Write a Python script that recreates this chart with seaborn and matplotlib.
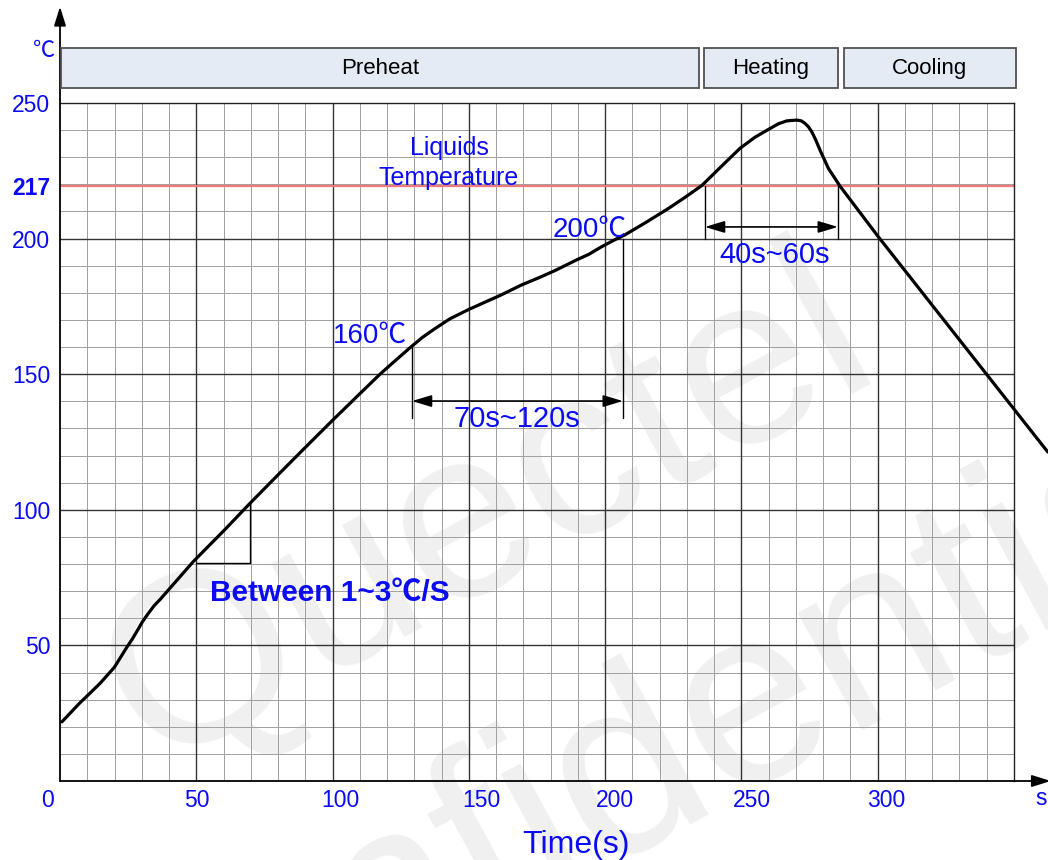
import numpy as np
import pandas as pd
import matplotlib
matplotlib.use("Agg")
import matplotlib.pyplot as plt
import matplotlib.transforms as mtransforms
from matplotlib.patches import Rectangle
import seaborn as sns

# ---------------- data ----------------
time_s = [0.7, 7, 14.7, 20, 24.5, 26.5, 28.1, 30.3, 32.4, 34.5, 36.7, 42, 48.9,
          60, 70, 80, 90, 100, 110, 117.4, 123, 128.8, 133, 137.4, 143, 149.6,
          156, 162, 169.3, 176, 182, 189, 194, 198.7, 203, 207.3, 215, 223.2,
          229, 235.5, 242, 249.5, 255, 260.5, 263.5, 266.6, 270.3, 272, 273.3,
          274.6, 275.8, 277.3, 278.8, 280.4, 281.9, 286.2, 300.2, 362.4]
temp_c = [21.8, 28.5, 36, 42, 49.3, 52.3, 55, 58.8, 61.8, 64.6, 66.9, 73, 80.9,
          92.2, 102.7, 112.9, 123, 133, 142.8, 150, 155, 160.1, 163.6, 166.7,
          170.4, 173.7, 176.6, 179.3, 182.9, 185.7, 188.4, 191.9, 194.2, 197,
          199.3, 201.4, 206, 211.1, 215, 219.6, 226, 233.3, 237.4, 240.6, 242.3,
          243.4, 243.7, 243.4, 242.5, 241.2, 239.4, 236.3, 232.7, 229.2, 225.9,
          219.3, 200.7, 121.3]

x_ticks = [0, 50, 100, 150, 200, 250, 300]
x_tick_labels = ["0", "50", "100", "150", "200", "250", "300"]
y_ticks = [50, 100, 150, 200, 219.4, 250]
y_tick_labels = ["50", "100", "150", "200", "217", "250"]
liquidus_y = 219.4

zones = ["Preheat", "Heating", "Cooling"]
zone_start = [0.4, 236.3, 287.6]
zone_end = [234.4, 285.4, 350.7]
zone_low, zone_high = 255.5, 270.3

ramp_x = [50, 69.7]
ramp_y = [80.5, 102.7]
soak_x = [129.1, 206.5]
soak_top = [160, 200]
soak_bottom = 134
soak_arrow_y = 140.1
reflow_x = [236.6, 285.4]
reflow_bottom = 200
reflow_arrow_y = 204.3

# ---------------- style ----------------
sns.set_style("white")
plt.rcParams["font.family"] = ["Liberation Sans", "Noto Sans CJK SC", "DejaVu Sans"]
BLUE = "#0a0af5"

W, H = 1048, 860
fig = plt.figure(figsize=(W / 100, H / 100), dpi=100)
ax = fig.add_axes([60 / W, (H - 781) / H, (1014 - 60) / W, (781 - 103) / H])
ax.set_xlim(0, 350)
ax.set_ylim(0, 250)
ax.patch.set_visible(False)

# watermark
fig.text(153 / W, 1 - 768 / H, "Quectel", rotation=28.5, rotation_mode="anchor",
         ha="left", va="baseline", fontsize=174, color="#f0f0f0", zorder=-5)
fig.text(80 / W, 1 - 1148 / H, "Confidential", rotation=28.5, rotation_mode="anchor",
         ha="left", va="baseline", fontsize=182, color="#f0f0f0", zorder=-5)

# grid
for v in range(10, 350, 10):
    if v % 50:
        ax.axvline(v, color="#a0a0a0", lw=0.7, zorder=1)
for v in range(10, 250, 10):
    if v % 50:
        ax.axhline(v, color="#a0a0a0", lw=0.7, zorder=1)
for v in range(50, 350, 50):
    ax.axvline(v, color="#333333", lw=1.0, zorder=1.5)
for v in range(50, 250, 50):
    ax.axhline(v, color="#333333", lw=1.0, zorder=1.5)

for s in ["top", "right"]:
    ax.spines[s].set_color("#222222")
    ax.spines[s].set_linewidth(1.0)
for s in ["left", "bottom"]:
    ax.spines[s].set_visible(False)

# axes with arrows
ax.annotate("", xy=(0, 285.5), xytext=(0, 0), annotation_clip=False,
            arrowprops=dict(arrowstyle="-|>,head_length=1.15,head_width=0.36",
                            color="black", lw=1.3, shrinkA=0, shrinkB=0))
ax.annotate("", xy=(363.5, 0), xytext=(0, 0), annotation_clip=False,
            arrowprops=dict(arrowstyle="-|>,head_length=1.15,head_width=0.36",
                            color="black", lw=1.3, shrinkA=0, shrinkB=0))

# liquidus line
ax.axhline(liquidus_y, xmin=0, xmax=1, color="#f07a7a", lw=1.6, zorder=2)

# curve
df = pd.DataFrame({"time": time_s, "temp": temp_c})
sns.lineplot(data=df, x="time", y="temp", ax=ax, color="black", lw=2.3,
             sort=False, zorder=5)
line = ax.lines[-1]
line.set_clip_on(False)
line.set_solid_joinstyle("round")

# zone boxes
for name, a, b in zip(zones, zone_start, zone_end):
    ax.add_patch(Rectangle((a, zone_low), b - a, zone_high - zone_low,
                           facecolor="#e5ebf5", edgecolor="#505050", lw=1.3,
                           clip_on=False, zorder=3))
    ax.text((a + b) / 2, (zone_low + zone_high) / 2, name, ha="center",
            va="center", fontsize=16, color="black", clip_on=False, zorder=4)

# ramp triangle
ax.plot([ramp_x[0], ramp_x[1], ramp_x[1]], [ramp_y[0], ramp_y[0], ramp_y[1]],
        color="black", lw=1.0, zorder=4)

# soak bracket
for xv, top in zip(soak_x, soak_top):
    ax.plot([xv, xv], [soak_bottom, top], color="black", lw=1.0, zorder=4)
ax.annotate("", xy=(soak_x[1], soak_arrow_y), xytext=(soak_x[0], soak_arrow_y),
            arrowprops=dict(arrowstyle="<|-|>,head_length=1.2,head_width=0.36",
                            color="black", lw=1.2, shrinkA=0, shrinkB=0), zorder=4)

# reflow bracket
for xv in reflow_x:
    ax.plot([xv, xv], [reflow_bottom, liquidus_y], color="black", lw=1.0, zorder=4)
ax.annotate("", xy=(reflow_x[1], reflow_arrow_y), xytext=(reflow_x[0], reflow_arrow_y),
            arrowprops=dict(arrowstyle="<|-|>,head_length=1.2,head_width=0.36",
                            color="black", lw=1.2, shrinkA=0, shrinkB=0), zorder=4)

# annotations
ax.text(142.7, 230.8, "Liquids", ha="center", va="baseline", fontsize=18, color=BLUE)
ax.text(142.7, 219.8, "Temperature", ha="center", va="baseline", fontsize=18, color=BLUE)
ax.text(194.4, 200.6, "200℃", ha="center", va="baseline", fontsize=20, color=BLUE, zorder=6)
ax.text(113.7, 161.5, "160℃", ha="center", va="baseline", fontsize=20, color=BLUE, zorder=6)
ax.text(167.7, 130.5, "70s~120s", ha="center", va="baseline", fontsize=21, color=BLUE, zorder=6)
ax.text(262.0, 191.0, "40s~60s", ha="center", va="baseline", fontsize=21, color=BLUE, zorder=6)
ax.text(55.0, 66.4, "Between 1~3℃/S", ha="left", va="baseline", fontsize=21.5,
        fontweight="bold", color=BLUE, zorder=6)
ax.text(189.3, -26.5, "Time(s)", ha="center", va="baseline", fontsize=23,
        color=BLUE, clip_on=False)
ax.text(-5.9, 267, "℃", ha="center", va="baseline", fontsize=16, color=BLUE, clip_on=False)
ax.text(360.0, -8.9, "s", ha="center", va="baseline", fontsize=16.5, color=BLUE, clip_on=False)

# ticks
ax.set_xticks(x_ticks)
ax.set_xticklabels(x_tick_labels)
ax.set_yticks(y_ticks)
ax.set_yticklabels(y_tick_labels)
ax.tick_params(axis="both", length=0, labelsize=16.5, labelcolor=BLUE)
ax.tick_params(axis="x", pad=6)
ax.tick_params(axis="y", pad=7)
ax.set_xlabel("")
ax.set_ylabel("")
x_offsets_px = [-13, 1, 8, 13, 10, 11, 9]
for lab, dx in zip(ax.get_xticklabels(), x_offsets_px):
    lab.set_transform(lab.get_transform() +
                      mtransforms.ScaledTranslation(dx / 100, 0, fig.dpi_scale_trans))
for lab in ax.get_yticklabels():
    if lab.get_text() == "217":
        lab.set_fontweight("bold")

fig.savefig("out.png", dpi=100)
